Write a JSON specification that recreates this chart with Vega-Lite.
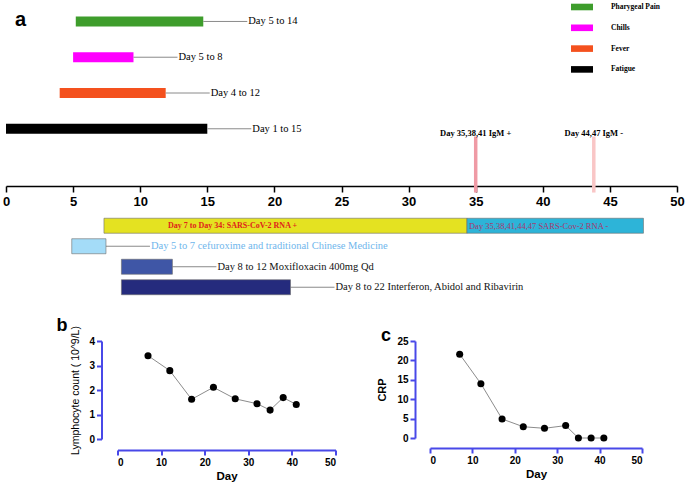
{
  "$schema": "https://vega.github.io/schema/vega-lite/v6.json",
  "padding": {"left": 2, "top": 0, "right": 0, "bottom": 0},
  "align": "none",
  "spacing": 3.5,
  "config": {"view": {"stroke": null}, "font": "Liberation Serif"},
  "resolve": {"scale": {"color": "independent", "fill": "independent", "x": "independent", "y": "independent"}},
  "vconcat": [
    {
      "width": 671,
      "height": 186,
      "data": {"values": [
        {"item": "Pharygeal Pain", "start": 5.2, "end": 14.7, "label": "Day 5 to 14"},
        {"item": "Chills", "start": 5.0, "end": 9.5, "label": "Day 5 to 8"},
        {"item": "Fever", "start": 4.0, "end": 11.9, "label": "Day 4 to 12"},
        {"item": "Fatigue", "start": 0, "end": 15.0, "label": "Day 1 to 15"}
      ]},
      "encoding": {
        "y": {"field": "item", "type": "nominal", "axis": null,
          "scale": {"domain": ["Pharygeal Pain", "Chills", "Fever", "Fatigue", "IgM"], "paddingInner": 0, "paddingOuter": 0.1}}
      },
      "layer": [
        {
          "mark": {"type": "bar", "height": 10},
          "encoding": {
            "x": {"field": "start", "type": "quantitative", "scale": {"domain": [0, 50]},
              "axis": {"title": null, "values": [0, 5, 10, 15, 20, 25, 30, 35, 40, 45, 50], "grid": false,
                "domainColor": "#000", "domainWidth": 1.5, "tickColor": "#000", "tickWidth": 1.5, "tickSize": 6,
                "labelFont": "Liberation Sans", "labelFontSize": 13, "labelFontWeight": "bold", "labelColor": "#000",
                "labelPadding": 3, "labelFlush": false}},
            "x2": {"field": "end"},
            "color": {"field": "item", "type": "nominal",
              "scale": {"domain": ["Pharygeal Pain", "Chills", "Fever", "Fatigue"], "range": ["#3e9d2c", "#ff00ff", "#f4511e", "#000000"]},
              "legend": {"orient": "none", "legendX": 570.5, "legendY": 1.5, "title": null,
                "symbolType": "M-2,-0.6H2V0.6H-2Z", "symbolSize": 121, "symbolStrokeWidth": 0,
                "labelFont": "Liberation Serif", "labelFontSize": 7.5, "labelFontWeight": "bold", "labelColor": "#000000",
                "labelOffset": 23.5, "rowPadding": 11.8}}
          }
        },
        {
          "mark": {"type": "rule", "color": "#8a8a8a", "strokeWidth": 1, "x2Offset": 44},
          "encoding": {
            "x": {"field": "end", "type": "quantitative", "title": null},
            "x2": {"field": "end"}
          }
        },
        {
          "mark": {"type": "text", "align": "left", "baseline": "middle", "dx": 45, "font": "Liberation Serif", "fontSize": 10.5, "color": "#000"},
          "encoding": {
            "x": {"field": "end", "type": "quantitative", "title": null},
            "text": {"field": "label"}
          }
        },
        {
          "data": {"values": [{"panel": "a"}]},
          "mark": {"type": "text", "align": "left", "baseline": "alphabetic", "dx": 9, "dy": 4.5, "font": "Liberation Sans", "fontSize": 20, "fontWeight": "bold", "color": "#000"},
          "encoding": {
            "x": {"datum": 0, "type": "quantitative", "title": null},
            "y": {"datum": "Pharygeal Pain", "type": "nominal"},
            "text": {"field": "panel"}
          }
        },
        {
          "data": {"values": [
            {"item": "IgM", "day": 35, "label": "Day 35,38,41  IgM +", "result": "positive"},
            {"item": "IgM", "day": 43.8, "label": "Day 44,47  IgM -", "result": "negative"}
          ]},
          "layer": [
            {
              "mark": {"type": "tick", "thickness": 3.5, "size": 56, "opacity": 1},
              "encoding": {
                "x": {"field": "day", "type": "quantitative", "title": null},
                "fill": {"field": "result", "type": "nominal", "legend": null,
                  "scale": {"domain": ["positive", "negative"], "range": ["#ef9aa5", "#f9c6c6"]}}
              }
            },
            {
              "mark": {"type": "text", "align": "center", "baseline": "middle", "dy": -32, "font": "Liberation Serif", "fontSize": 8.5, "fontWeight": "bold", "color": "#000"},
              "encoding": {
                "x": {"field": "day", "type": "quantitative", "title": null},
                "text": {"field": "label"}
              }
            }
          ]
        }
      ]
    },
    {
      "width": 671,
      "height": 100.25,
      "data": {"values": [
        {"row": "RNA", "part": "RNA +", "start": 7.3, "end": 34.35, "label": "Day 7 to Day 34: SARS-CoV-2 RNA +"},
        {"row": "RNA", "part": "RNA -", "start": 34.35, "end": 47.5, "label": "Day 35,38,41,44,47 SARS-Cov-2 RNA -"},
        {"row": "Cefuroxime", "part": "Cefuroxime", "start": 4.9, "end": 7.45, "label": "Day 5 to 7 cefuroxime and traditional Chinese Medicine"},
        {"row": "Moxifloxacin", "part": "Moxifloxacin", "start": 8.6, "end": 12.4, "label": "Day 8 to 12 Moxifloxacin 400mg Qd"},
        {"row": "Interferon", "part": "Interferon", "start": 8.6, "end": 21.2, "label": "Day 8 to 22 Interferon, Abidol and Ribavirin"}
      ]},
      "encoding": {
        "y": {"field": "row", "type": "nominal", "axis": null,
          "scale": {"domain": ["RNA", "Cefuroxime", "Moxifloxacin", "Interferon"], "paddingInner": 0, "paddingOuter": 0.445, "align": 0.219}}
      },
      "layer": [
        {
          "transform": [{"filter": "datum.row != 'RNA'"}],
          "mark": {"type": "rule", "color": "#8a8a8a", "strokeWidth": 1, "x2Offset": 44},
          "encoding": {
            "x": {"field": "end", "type": "quantitative", "scale": {"domain": [0, 50]}, "axis": null},
            "x2": {"field": "end"}
          }
        },
        {
          "mark": {"type": "bar", "height": 15, "stroke": "#6b6b6b", "strokeWidth": 0.6},
          "encoding": {
            "x": {"field": "start", "type": "quantitative", "scale": {"domain": [0, 50]}, "axis": null},
            "x2": {"field": "end"},
            "fill": {"field": "part", "type": "nominal", "legend": null,
              "scale": {"domain": ["RNA +", "RNA -", "Cefuroxime", "Moxifloxacin", "Interferon"],
                "range": ["#e4e221", "#2db4d8", "#a4dcf8", "#3f56a6", "#252b7d"]}}
          }
        },
        {
          "transform": [{"filter": "datum.row != 'RNA'"}],
          "mark": {"type": "text", "align": "left", "baseline": "middle", "dx": 45, "font": "Liberation Serif", "fontSize": 10.5},
          "encoding": {
            "x": {"field": "end", "type": "quantitative", "scale": {"domain": [0, 50]}, "axis": null},
            "text": {"field": "label"},
            "color": {"field": "part", "type": "nominal", "legend": null,
              "scale": {"domain": ["Cefuroxime", "Moxifloxacin", "Interferon"], "range": ["#6fb6ec", "#111111", "#111111"]}}
          }
        },
        {
          "transform": [{"filter": "datum.part == 'RNA +'"}],
          "mark": {"type": "text", "align": "left", "baseline": "middle", "dx": 64, "font": "Liberation Serif", "fontSize": 8, "fontWeight": "bold", "color": "#e0231b"},
          "encoding": {
            "x": {"field": "start", "type": "quantitative", "scale": {"domain": [0, 50]}, "axis": null},
            "text": {"field": "label"}
          }
        },
        {
          "transform": [{"filter": "datum.part == 'RNA -'"}],
          "mark": {"type": "text", "align": "left", "baseline": "middle", "dx": 2, "font": "Liberation Serif", "fontSize": 8.5, "color": "#a8386f"},
          "encoding": {
            "x": {"field": "start", "type": "quantitative", "scale": {"domain": [0, 50]}, "axis": null},
            "text": {"field": "label"}
          }
        }
      ]
    },
    {
      "hconcat": [
        {
          "width": 10.5,
          "height": 20,
          "data": {"values": []},
          "mark": "point"
        },
        {
          "width": 218,
          "height": 98,
          "title": {"text": "b", "anchor": "start", "frame": "group", "font": "Liberation Sans", "fontSize": 18, "fontWeight": "bold", "dx": -61, "offset": -9},
          "data": {"values": [
            {"day": 7, "count": 3.4},
            {"day": 12, "count": 2.79},
            {"day": 17, "count": 1.62},
            {"day": 22, "count": 2.11},
            {"day": 27, "count": 1.64},
            {"day": 32, "count": 1.44},
            {"day": 35, "count": 1.18},
            {"day": 38, "count": 1.69},
            {"day": 41, "count": 1.41}
          ]},
          "encoding": {
            "x": {"field": "day", "type": "quantitative", "scale": {"domain": [0, 50]},
              "axis": {"title": "Day", "offset": 11, "values": [0, 10, 20, 30, 40, 50], "grid": false,
                "domainColor": "#4848e8", "domainWidth": 2, "tickColor": "#4848e8", "tickWidth": 2, "tickSize": 5,
                "labelFont": "Liberation Sans", "labelFontSize": 10, "labelFontWeight": "bold", "labelColor": "#000", "labelPadding": 2,
                "titleFont": "Liberation Sans", "titleFontSize": 11.5, "titleFontWeight": "bold", "titleColor": "#000", "titlePadding": 3}},
            "y": {"field": "count", "type": "quantitative", "scale": {"domain": [0, 4]},
              "axis": {"title": "Lymphocyte count ( 10^9/L)", "offset": 16, "values": [0, 1, 2, 3, 4], "grid": false,
                "domainColor": "#4848e8", "domainWidth": 2, "tickColor": "#4848e8", "tickWidth": 2, "tickSize": 5,
                "labelFont": "Liberation Sans", "labelFontSize": 10, "labelFontWeight": "bold", "labelColor": "#000", "labelPadding": 2,
                "titleFont": "Liberation Sans", "titleFontSize": 10.5, "titleFontWeight": "normal", "titleColor": "#000", "titlePadding": 8}}
          },
          "layer": [
            {"mark": {"type": "line", "color": "#8c8c8c", "strokeWidth": 1}},
            {"mark": {"type": "point", "filled": true, "color": "#000", "size": 50, "opacity": 1}}
          ]
        },
        {
          "width": 212,
          "height": 97,
          "title": {"text": "c", "anchor": "start", "frame": "group", "font": "Liberation Sans", "fontSize": 18, "fontWeight": "bold", "dx": -49, "offset": -9},
          "data": {"values": [
            {"day": 7, "crp": 21.6},
            {"day": 12, "crp": 14.0},
            {"day": 17, "crp": 4.9},
            {"day": 22, "crp": 2.9},
            {"day": 27, "crp": 2.5},
            {"day": 32, "crp": 3.2},
            {"day": 35, "crp": 0},
            {"day": 38, "crp": 0},
            {"day": 41, "crp": 0}
          ]},
          "encoding": {
            "x": {"field": "day", "type": "quantitative", "scale": {"domain": [0, 50]},
              "axis": {"title": "Day", "offset": 10, "values": [0, 10, 20, 30, 40, 50], "grid": false,
                "domainColor": "#4848e8", "domainWidth": 2, "tickColor": "#4848e8", "tickWidth": 2, "tickSize": 5,
                "labelFont": "Liberation Sans", "labelFontSize": 10, "labelFontWeight": "bold", "labelColor": "#000", "labelPadding": 2,
                "titleFont": "Liberation Sans", "titleFontSize": 11.5, "titleFontWeight": "bold", "titleColor": "#000", "titlePadding": 3}},
            "y": {"field": "crp", "type": "quantitative", "scale": {"domain": [0, 25]},
              "axis": {"title": "CRP", "offset": 15, "values": [0, 5, 10, 15, 20, 25], "grid": false,
                "domainColor": "#4848e8", "domainWidth": 2, "tickColor": "#4848e8", "tickWidth": 2, "tickSize": 5,
                "labelFont": "Liberation Sans", "labelFontSize": 10, "labelFontWeight": "bold", "labelColor": "#000", "labelPadding": 2,
                "titleFont": "Liberation Sans", "titleFontSize": 11, "titleFontWeight": "bold", "titleColor": "#000", "titlePadding": 9}}
          },
          "layer": [
            {"mark": {"type": "line", "color": "#8c8c8c", "strokeWidth": 1}},
            {"mark": {"type": "point", "filled": true, "color": "#000", "size": 50, "opacity": 1}}
          ]
        }
      ],
      "spacing": 39.5,
      "align": "none"
    }
  ]
}
